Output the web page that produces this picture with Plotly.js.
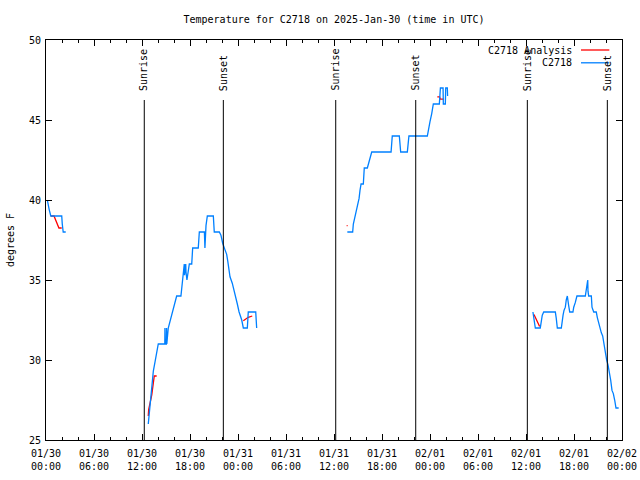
<!DOCTYPE html>
<html>
<head>
<meta charset="utf-8">
<script src="https://cdn.plot.ly/plotly-3.0.1.min.js"></script>
<style>html,body{margin:0;padding:0;background:#fff;}#chart{width:640px;height:480px;}</style>
</head>
<body>
<div id="chart"></div>
<script>
// ---------- data ----------
const chartTitle = "Temperature for C2718 on 2025-Jan-30 (time in UTC)";
const yTitle = "degrees F";
const seriesNames = ["C2718 Analysis", "C2718"];
const xStart = "2025-01-30 00:00";
const xEnd = "2025-02-02 00:00";

const sunriseTimes = ["2025-01-30 12:17", "2025-01-31 12:13", "2025-02-01 12:10"];
const sunsetTimes  = ["2025-01-30 22:10", "2025-01-31 22:13", "2025-02-01 22:10"];

// Observations (C2718)
const obs1Times = ["2025-01-30 00:10","2025-01-30 00:16","2025-01-30 00:24","2025-01-30 00:36","2025-01-30 01:58","2025-01-30 02:02","2025-01-30 02:09","2025-01-30 02:28"];
const obs1Temps = [40.0,39.7,39.4,39.0,39.0,38.5,38.0,38.0];

const obs2Times = ["2025-01-30 12:47","2025-01-30 12:53","2025-01-30 13:00","2025-01-30 13:13","2025-01-30 13:25","2025-01-30 13:38","2025-01-30 13:50","2025-01-30 14:02","2025-01-30 14:35","2025-01-30 14:51","2025-01-30 14:52","2025-01-30 14:54","2025-01-30 15:03","2025-01-30 15:04","2025-01-30 15:06","2025-01-30 15:17","2025-01-30 15:30","2025-01-30 15:43","2025-01-30 15:55","2025-01-30 16:08","2025-01-30 16:20","2025-01-30 16:52","2025-01-30 17:02","2025-01-30 17:10","2025-01-30 17:17","2025-01-30 17:19","2025-01-30 17:28","2025-01-30 17:30","2025-01-30 17:37","2025-01-30 17:55","2025-01-30 18:13","2025-01-30 18:20","2025-01-30 19:02","2025-01-30 19:10","2025-01-30 19:48","2025-01-30 19:52","2025-01-30 20:00","2025-01-30 20:10","2025-01-30 20:55","2025-01-30 21:02","2025-01-30 21:40","2025-01-30 21:52","2025-01-30 22:05","2025-01-30 22:22","2025-01-30 22:35","2025-01-30 22:43","2025-01-30 22:52","2025-01-30 23:00","2025-01-30 23:17","2025-01-30 23:37","2025-01-30 23:55","2025-01-31 00:08","2025-01-31 00:28","2025-01-31 00:40","2025-01-31 01:10","2025-01-31 01:17","2025-01-31 02:13","2025-01-31 02:20"];
const obs2Temps = [26.0,26.6,27.2,28.1,29.3,29.9,30.5,31.0,31.0,31.0,32.0,31.0,31.0,32.0,31.0,32.0,32.4,32.8,33.1,33.6,34.0,34.0,34.8,35.2,36.0,35.3,36.0,35.5,35.0,36.0,36.0,37.0,37.0,38.0,38.0,37.0,38.4,39.0,39.0,38.0,38.0,37.8,37.3,36.9,36.6,36.2,35.7,35.2,34.8,34.2,33.5,33.0,32.5,32.0,32.0,33.0,33.0,32.0];

const obs3Times = ["2025-01-31 13:40","2025-01-31 14:20","2025-01-31 14:25","2025-01-31 14:38","2025-01-31 14:50","2025-01-31 14:58","2025-01-31 15:08","2025-01-31 15:15","2025-01-31 15:23","2025-01-31 15:40","2025-01-31 15:47","2025-01-31 16:10","2025-01-31 16:17","2025-01-31 16:30","2025-01-31 16:43","2025-01-31 19:08","2025-01-31 19:17","2025-01-31 20:10","2025-01-31 20:20","2025-01-31 21:10","2025-01-31 21:22","2025-01-31 23:40","2025-01-31 23:47","2025-02-01 00:00","2025-02-01 00:13","2025-02-01 00:25","2025-02-01 01:10","2025-02-01 01:18","2025-02-01 01:38","2025-02-01 01:40","2025-02-01 01:55","2025-02-01 01:58","2025-02-01 02:10","2025-02-01 02:12"];
const obs3Temps = [38.0,38.0,38.5,39.0,39.3,39.6,40.1,40.6,41.0,41.0,42.0,42.0,42.2,42.6,43.0,43.0,44.0,44.0,43.0,43.0,44.0,44.0,44.4,44.9,45.4,46.0,46.0,47.0,47.0,46.0,46.0,47.0,47.0,46.5];

const obs4Times = ["2025-02-01 12:52","2025-02-01 13:05","2025-02-01 13:10","2025-02-01 13:47","2025-02-01 13:55","2025-02-01 14:02","2025-02-01 14:13","2025-02-01 15:40","2025-02-01 15:47","2025-02-01 15:55","2025-02-01 16:25","2025-02-01 16:30","2025-02-01 16:38","2025-02-01 16:45","2025-02-01 16:55","2025-02-01 17:02","2025-02-01 17:10","2025-02-01 17:20","2025-02-01 17:28","2025-02-01 17:52","2025-02-01 17:58","2025-02-01 18:10","2025-02-01 18:22","2025-02-01 19:25","2025-02-01 19:32","2025-02-01 19:37","2025-02-01 19:43","2025-02-01 19:45","2025-02-01 19:50","2025-02-01 20:10","2025-02-01 20:15","2025-02-01 20:28","2025-02-01 20:47","2025-02-01 20:55","2025-02-01 21:05","2025-02-01 21:15","2025-02-01 21:25","2025-02-01 21:35","2025-02-01 21:45","2025-02-01 21:55","2025-02-01 22:05","2025-02-01 22:15","2025-02-01 22:25","2025-02-01 22:35","2025-02-01 22:45","2025-02-01 22:55","2025-02-01 23:05","2025-02-01 23:15","2025-02-01 23:35"];
const obs4Temps = [33.0,32.3,32.0,32.0,32.5,32.8,33.0,33.0,32.6,32.0,32.0,32.5,32.8,33.1,33.3,33.75,34.0,33.4,33.0,33.0,33.3,33.6,34.0,34.0,34.4,34.7,35.0,34.3,34.0,34.0,33.3,33.0,33.0,32.65,32.3,32.0,31.7,31.5,30.9,30.4,30.0,29.7,29.3,28.75,28.1,27.9,27.5,27.0,27.0];

// Analysis (C2718 Analysis) – visible pieces
const ana1Times = ["2025-01-30 00:36","2025-01-30 01:00","2025-01-30 01:37","2025-01-30 01:58"];
const ana1Temps = [39.0,39.0,38.25,38.25];
const ana2Times = ["2025-01-30 12:47","2025-01-30 12:50","2025-01-30 13:13","2025-01-30 13:25","2025-01-30 13:32","2025-01-30 13:50"];
const ana2Temps = [26.5,26.9,27.8,28.6,29.0,29.0];
const ana3Times = ["2025-01-31 00:40","2025-01-31 00:58","2025-01-31 01:17","2025-01-31 01:47"];
const ana3Temps = [32.45,32.55,32.67,32.75];
const ana4Times = ["2025-01-31 13:35","2025-01-31 13:42"];
const ana4Temps = [38.4,38.4];
const ana5Times = ["2025-02-01 00:55","2025-02-01 01:12","2025-02-01 01:17","2025-02-01 01:45"];
const ana5Temps = [46.45,46.45,46.3,46.3];
const ana6Times = ["2025-02-01 13:00","2025-02-01 13:42"];
const ana6Temps = [32.85,32.1];

// ---------- build ----------
function joinSegments(segs) {
  const x = [], y = [];
  segs.forEach((s, i) => {
    if (i > 0) { x.push(null); y.push(null); }
    x.push(...s[0]); y.push(...s[1]);
  });
  return {x, y};
}
const obs = joinSegments([[obs1Times,obs1Temps],[obs2Times,obs2Temps],[obs3Times,obs3Temps],[obs4Times,obs4Temps]]);
const ana = joinSegments([[ana1Times,ana1Temps],[ana2Times,ana2Temps],[ana3Times,ana3Temps],[ana4Times,ana4Temps],[ana5Times,ana5Temps],[ana6Times,ana6Temps]]);

const RED = "#ff0000", BLUE = "#0080ff";
const FONT = "DejaVu Sans Mono, Liberation Mono, monospace";
const FS = 10;

const traces = [
  {x: ana.x, y: ana.y, type: "scatter", mode: "lines", name: seriesNames[0], connectgaps: false,
   line: {color: RED, width: 1.3}, hoverinfo: "skip"},
  {x: obs.x, y: obs.y, type: "scatter", mode: "lines", name: seriesNames[1], connectgaps: false,
   line: {color: BLUE, width: 1.3}, hoverinfo: "skip"}
];

const shapes = [];
const annotations = [];
function addSunLine(t, label) {
  shapes.push({type: "line", xref: "x", yref: "paper", x0: t, x1: t, y0: 0, y1: 0.85,
               line: {color: "black", width: 1}});
  annotations.push({xref: "x", yref: "paper", x: t, y: 0.868, text: label, showarrow: false,
                    textangle: -90, xanchor: "center", yanchor: "bottom",
                    font: {family: FONT, size: FS, color: "black"}});
}
sunriseTimes.forEach(t => addSunLine(t, "Sunrise"));
sunsetTimes.forEach(t => addSunLine(t, "Sunset"));

// legend (gnuplot style: text left of sample)
const legendRows = [{name: seriesNames[0], color: RED, y: 0.975}, {name: seriesNames[1], color: BLUE, y: 0.943}];
legendRows.forEach(r => {
  annotations.push({xref: "paper", yref: "paper", x: 0.9167, y: r.y, text: r.name, showarrow: false,
                    xanchor: "right", yanchor: "middle", font: {family: FONT, size: FS, color: "black"}});
  shapes.push({type: "line", xref: "paper", yref: "paper", x0: 0.9288, x1: 0.978, y0: r.y, y1: r.y,
               line: {color: r.color, width: 1.3}});
});

const axisCommon = {
  showline: true, linecolor: "black", linewidth: 1, mirror: "allticks",
  ticks: "inside", ticklen: 6, tickcolor: "black", tickwidth: 1,
  showgrid: false, zeroline: false,
  tickfont: {family: FONT, size: FS, color: "black"}
};

const layout = {
  width: 640, height: 480,
  margin: {l: 46, r: 18, t: 40, b: 40, pad: 0},
  paper_bgcolor: "white", plot_bgcolor: "white",
  showlegend: false,
  title: {text: chartTitle, xref: "paper", x: 0.5, xanchor: "center", y: 1 - 19/480, yanchor: "middle",
          font: {family: FONT, size: FS, color: "black"}},
  xaxis: Object.assign({}, axisCommon, {
    type: "date", range: [xStart, xEnd], tick0: xStart, dtick: 6*3600*1000,
    tickformat: "%m/%d<br>%H:%M", ticklabelstandoff: 4,
    minor: {dtick: 2*3600*1000, ticks: "inside", ticklen: 3, tickcolor: "black"}
  }),
  yaxis: Object.assign({}, axisCommon, {
    range: [25, 50], dtick: 5, tick0: 25, ticklabelstandoff: 2,
    title: {text: yTitle, font: {family: FONT, size: FS, color: "black"}, standoff: 12}
  }),
  shapes: shapes,
  annotations: annotations
};

Plotly.newPlot("chart", traces, layout, {staticPlot: true, displayModeBar: false});
</script>
</body>
</html>
